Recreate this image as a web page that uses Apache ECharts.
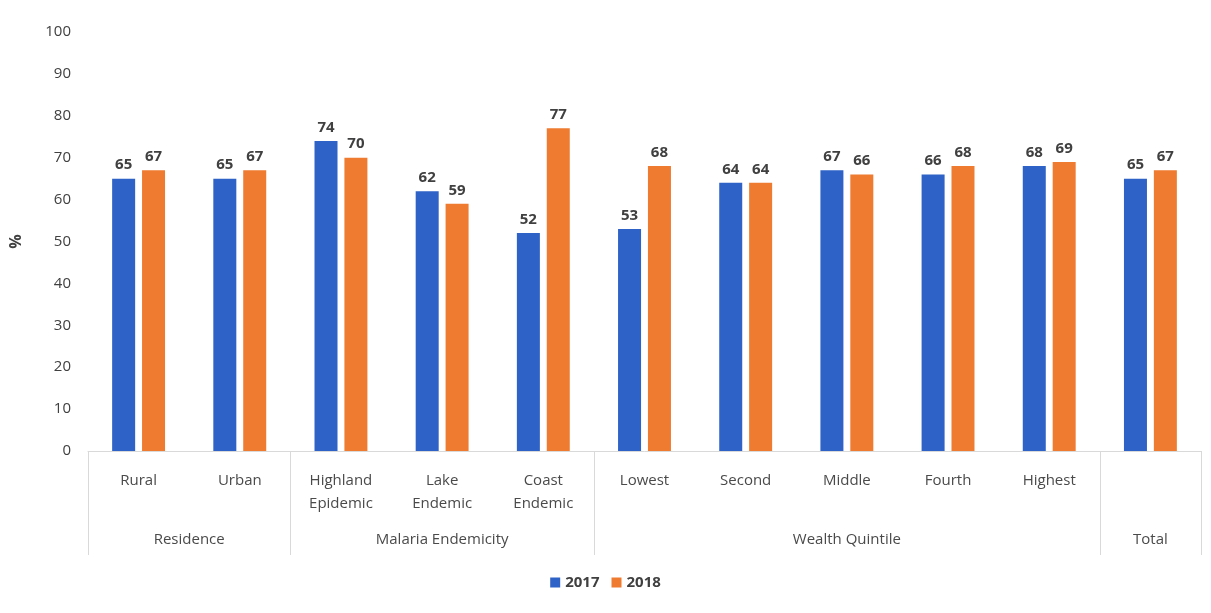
<!DOCTYPE html>
<html><head><meta charset="utf-8">
<script src="https://cdn.jsdelivr.net/npm/echarts@6/dist/echarts.min.js"></script>
<style>html,body{margin:0;padding:0;background:#fff}#c{width:1211px;height:613px}</style>
</head><body><div id="c"></div>
<script>
const categories = ['Rural','Urban','Highland\nEpidemic','Lake\nEndemic','Coast\nEndemic','Lowest','Second','Middle','Fourth','Highest',''];
const groupNames = ['Residence','Malaria Endemicity','Wealth Quintile','Total'];
const groupSizes = [2,3,5,1];
const values2017 = [65,65,74,62,52,53,64,67,66,68,65];
const values2018 = [67,67,70,59,77,68,64,66,68,69,67];
const seriesNames = ['2017','2018'];
const yTicks = [0,10,20,30,40,50,60,70,80,90,100];

const FONT = '"Open Sans", "Liberation Sans", sans-serif';
const chart = echarts.init(document.getElementById('c'), null, {renderer:'canvas'});
const labelStyle = {show:true, position:'top', color:'#404040', fontSize:15, fontWeight:'bold', fontFamily:FONT, distance:6};
chart.setOption({
  animation:false,
  grid:{left:85, right:10, top:32, bottom:162},
  legend:{bottom:18, left:'center', itemWidth:10, itemHeight:10, itemGap:12,
    textStyle:{color:'#404040', fontSize:15, fontWeight:'bold', fontFamily:FONT}, icon:'rect', data:seriesNames},
  xAxis:{type:'category', data:categories,
    axisLine:{show:true, lineStyle:{color:'#d9d9d9', width:1}},
    axisTick:{show:false},
    axisLabel:{color:'#4a4a4a', fontSize:15, fontWeight:500, fontFamily:FONT, margin:18, lineHeight:23, interval:0}},
  yAxis:{type:'value', min:yTicks[0], max:yTicks[yTicks.length-1], interval:10,
    name:'%', nameLocation:'middle', nameRotate:90, nameGap:64,
    nameTextStyle:{color:'#404040', fontSize:16, fontWeight:'bold', fontFamily:FONT},
    axisLine:{show:false}, axisTick:{show:false}, splitLine:{show:false},
    axisLabel:{color:'#404040', fontSize:15, fontWeight:500, fontFamily:FONT, margin:17}},
  series:[
    {name:seriesNames[0], type:'bar', data:values2017, barWidth:23, barGap:'30%', itemStyle:{color:'#2E62C6'}, label:labelStyle},
    {name:seriesNames[1], type:'bar', data:values2018, barWidth:23, itemStyle:{color:'#EE7B30'}, label:labelStyle}
  ]
});

function drawGroups(){
  const cx = i => chart.convertToPixel({xAxisIndex:0}, i);
  const band = cx(1) - cx(0);
  const y0 = chart.convertToPixel({yAxisIndex:0}, 0);
  const elements = [];
  let start = 0;
  const boundaries = [cx(0) - band/2];
  groupNames.forEach((g, k) => {
    const end = start + groupSizes[k] - 1;
    const mid = (cx(start) + cx(end)) / 2;
    elements.push({type:'text', x:mid, y:y0 + 89, style:{text:g, fill:'#4a4a4a', font:'500 15px ' + FONT, align:'center', verticalAlign:'middle'}});
    boundaries.push(cx(end) + band/2);
    start = end + 1;
  });
  boundaries.forEach(b => {
    elements.push({type:'line', shape:{x1:Math.round(b)+0.5, y1:y0, x2:Math.round(b)+0.5, y2:y0 + 104}, style:{stroke:'#d9d9d9', lineWidth:1}});
  });
  chart.setOption({graphic:elements});
}
drawGroups();
</script></body></html>
